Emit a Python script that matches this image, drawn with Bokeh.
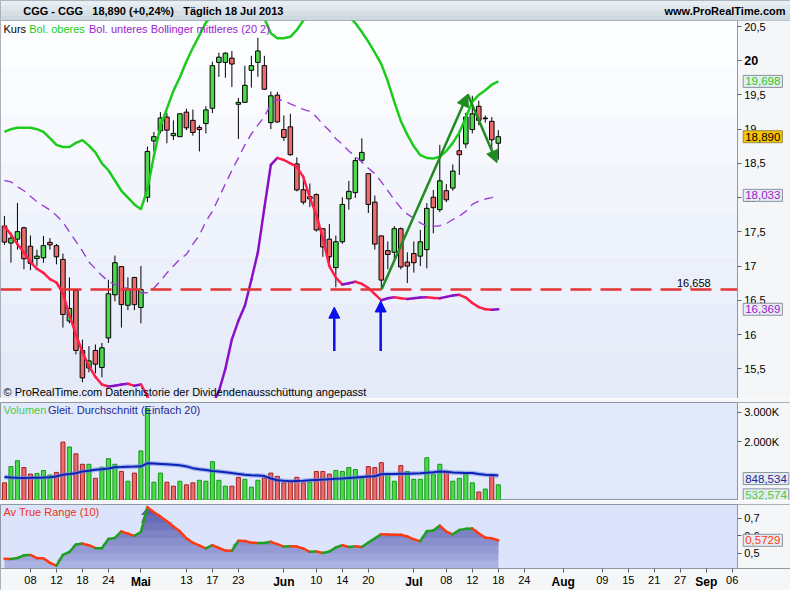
import numpy as np
from bokeh.plotting import figure
from bokeh.layouts import column
from bokeh.models import (Range1d, FixedTicker, Label, Arrow, NormalHead,
                          BoxAnnotation, ColumnDataSource, LinearAxis)
from bokeh.embed import file_html
from bokeh.resources import INLINE

# ------------------------------------------------------------------ data
ticker_name = "CGG - CGG"
period_text = "Täglich  18 Jul 2013"
site_text = "www.ProRealTime.com"

opens = [17.585, 17.336, 17.393, 17.56, 17.29, 17.11, 17.121, 17.346, 17.298, 17.097,
         16.198, 16.643, 15.767, 15.51, 15.767, 15.518, 15.949, 16.58, 16.992, 16.427,
         16.834, 16.394, 18.005, 18.828, 18.976, 19.177, 18.905, 18.89, 19.249, 19.129,
         19.024, 19.082, 19.306, 19.976, 19.976, 20.038, 19.364, 19.392, 19.861, 19.976,
         19.928, 19.096, 19.498, 18.995, 19.034, 18.493, 18.115, 17.981, 18.044, 17.546,
         17.393, 16.977, 17.355, 17.982, 18.073, 18.546, 18.35, 17.934, 17.441, 17.226,
         17.202, 17.546, 17.058, 17.183, 17.145, 17.24, 18.006, 17.824, 18.101, 18.139,
         18.685, 18.785, 18.995, 19.335, 19.163, 19.115, 18.795]
highs = [17.73, 17.489, 17.92, 17.575, 17.446, 17.24, 17.441, 17.408, 17.322, 17.183,
         16.834, 16.657, 15.925, 15.83, 15.854, 15.877, 16.8, 17.154, 17.0, 16.834,
         16.834, 17.001, 18.747, 18.96, 19.249, 19.24, 19.129, 19.225, 19.297, 19.287,
         19.058, 19.335, 19.985, 20.119, 20.124, 20.143, 19.455, 19.928, 20.072, 20.335,
         20.072, 19.55, 19.545, 19.2, 19.225, 18.589, 18.331, 18.206, 18.063, 17.546,
         17.613, 17.446, 18.006, 18.245, 18.589, 18.866, 18.35, 18.03, 17.441, 17.36,
         17.585, 17.565, 17.202, 17.36, 17.527, 17.92, 18.111, 18.77, 18.197, 18.484,
         18.986, 19.24, 19.488, 19.416, 19.2, 19.177, 18.986]
lows = [17.31, 17.049, 17.24, 16.953, 16.94, 17.0, 17.049, 17.24, 17.025, 16.102,
        16.164, 15.71, 15.303, 15.447, 15.433, 15.375, 15.877, 16.485, 16.102, 16.356,
        16.356, 16.164, 17.934, 18.675, 18.938, 18.795, 18.842, 18.89, 18.986, 18.905,
        18.675, 18.938, 19.235, 19.765, 19.751, 19.617, 18.857, 19.392, 19.608, 19.765,
        19.574, 19.0, 19.096, 18.828, 18.613, 18.092, 17.9, 17.862, 17.503, 17.135,
        17.039, 16.69, 17.326, 17.824, 17.996, 18.508, 17.776, 17.24, 16.657, 16.953,
        17.073, 16.953, 16.752, 16.905, 17.001, 16.968, 17.479, 17.79, 17.934, 18.101,
        18.331, 18.723, 18.938, 19.058, 19.096, 18.675, 18.555]
closes = [17.35, 17.408, 17.503, 17.107, 17.04, 17.145, 17.298, 17.31, 17.135, 16.293,
          16.38, 15.767, 15.366, 15.614, 15.566, 15.806, 16.595, 17.049, 16.437, 16.657,
          16.437, 16.657, 18.675, 18.89, 19.163, 18.986, 18.938, 19.225, 19.02, 18.952,
          18.995, 19.282, 19.928, 20.052, 20.11, 19.952, 19.392, 19.641, 19.928, 20.143,
          19.584, 19.488, 19.106, 18.88, 18.627, 18.111, 17.934, 18.015, 17.527, 17.279,
          17.135, 17.355, 17.9, 18.092, 18.541, 18.661, 17.9, 17.321, 16.795, 17.169,
          17.546, 16.987, 17.0, 17.049, 17.355, 17.843, 17.853, 18.245, 17.968, 18.388,
          18.627, 19.177, 19.225, 19.129, 19.153, 18.845, 18.89]
volumes = [600, 1154, 1354, 1121, 899, 921, 1021, 866, 955, 1987,
           1820, 1587, 1232, 1232, 755, 1132, 1421, 1232, 988, 655,
           932, 1687, 3130, 622, 932, 622, 488, 655, 533, 600,
           688, 655, 1321, 688, 488, 488, 788, 722, 455, 688,
           766, 932, 821, 600, 655, 788, 600, 622, 988, 988,
           899, 1021, 988, 1121, 1054, 766, 1154, 1121, 1288, 910,
           655, 1188, 988, 722, 722, 1454, 899, 1232, 966, 655,
           755, 899, 600, 289, 389, 844, 532.574]
vol_ma20 = [800, 780, 770, 766, 770, 775, 780, 788, 820, 877,
            900, 930, 988, 1010, 1043, 1060, 1090, 1132, 1140, 1150,
            1154, 1160, 1265, 1255, 1243, 1230, 1215, 1200, 1160, 1100,
            1066, 1040, 1000, 988, 960, 932, 905, 877, 860, 850,
            830, 750, 688, 670, 655, 665, 675, 688, 700, 710,
            725, 740, 750, 765, 780, 800, 815, 825, 890, 905,
            905, 910, 910, 920, 930, 945, 960, 985, 975, 955,
            945, 932, 932, 900, 877, 866, 848.534]
boll_upper = [18.96, 19.0, 19.02, 19.02, 19.02, 19.0, 18.96, 18.87, 18.77, 18.74,
              18.74, 18.80, 18.84, 18.76, 18.66, 18.5, 18.4, 18.25, 18.1, 18.0,
              17.9, 17.83, 18.12, 18.61, 19.04, 19.30, 19.56, 19.76, 19.99, 20.19,
              20.37, 20.56, 20.65, 20.75, 20.85, 20.95, 21.05, 21.05, 21.0, 20.85,
              20.62, 20.40, 20.33, 20.33, 20.35, 20.45, 20.59, 20.7, 20.78, 20.85,
              20.88, 20.85, 20.78, 20.65, 20.55, 20.42, 20.28, 20.12, 19.95, 19.7,
              19.4, 19.12, 18.92, 18.75, 18.62, 18.58, 18.57, 18.6, 18.68, 18.8,
              18.95, 19.17, 19.4, 19.5, 19.57, 19.65, 19.698]
boll_mid = [18.25, 18.23, 18.16, 18.1, 18.02, 17.94, 17.88, 17.82, 17.74, 17.64,
            17.5, 17.36, 17.22, 17.06, 16.96, 16.86, 16.78, 16.73, 16.70, 16.67,
            16.64, 16.61, 16.61, 16.68, 16.78, 16.9, 17.0, 17.1, 17.17, 17.32,
            17.45, 17.65, 17.8, 18.0, 18.2, 18.4, 18.58, 18.77, 18.93, 19.06,
            19.18, 19.37, 19.43, 19.42, 19.37, 19.33, 19.29, 19.26, 19.18, 19.07,
            18.98, 18.86, 18.78, 18.68, 18.6, 18.52, 18.43, 18.35, 18.23, 18.1,
            17.97, 17.85, 17.76, 17.7, 17.63, 17.58, 17.58, 17.59, 17.62, 17.68,
            17.73, 17.8, 17.9, 17.95, 17.98, 18.0, 18.033]
boll_lower = [17.58, 17.46, 17.32, 17.2, 17.06, 16.96, 16.90, 16.81, 16.76, 16.60,
              16.28, 16.0, 15.74, 15.54, 15.38, 15.27, 15.24, 15.25, 15.27, 15.28,
              15.25, 15.27, 15.10, 14.75, 14.52, 14.50, 14.44, 14.44, 14.35, 14.45,
              14.53, 14.74, 14.98, 15.17, 15.5, 15.93, 16.2, 16.42, 16.8, 17.2,
              17.85, 18.48, 18.58, 18.55, 18.5, 18.45, 18.3, 18.0, 17.75, 17.4,
              17.0, 16.83, 16.73, 16.75, 16.77, 16.74, 16.68, 16.59, 16.50, 16.53,
              16.545, 16.53, 16.52, 16.53, 16.54, 16.545, 16.535, 16.53, 16.55, 16.57,
              16.58, 16.54, 16.46, 16.40, 16.37, 16.362, 16.369]
atr10 = [0.468, 0.466, 0.472, 0.487, 0.489, 0.471, 0.470, 0.444, 0.428, 0.49,
         0.506, 0.549, 0.554, 0.545, 0.528, 0.528, 0.581, 0.586, 0.624, 0.611,
         0.598, 0.620, 0.762, 0.733, 0.708, 0.682, 0.652, 0.624, 0.584, 0.559,
         0.542, 0.527, 0.545, 0.529, 0.514, 0.513, 0.570, 0.569, 0.559, 0.558,
         0.558, 0.564, 0.551, 0.537, 0.539, 0.537, 0.526, 0.507, 0.509, 0.500,
         0.509, 0.532, 0.545, 0.535, 0.539, 0.535, 0.560, 0.584, 0.608, 0.606,
         0.605, 0.604, 0.595, 0.578, 0.568, 0.625, 0.629, 0.657, 0.622, 0.607,
         0.632, 0.638, 0.640, 0.612, 0.588, 0.584, 0.5729]

tick_idx = [4, 8, 12, 16, 21, 28, 32, 36, 43, 48, 52, 56, 63, 68, 72, 76,
            80, 86, 92, 96, 100, 104, 108, 112]
tick_labels = ["08", "12", "18", "24", "Mai", "13", "17", "23", "Jun", "10", "14", "20",
               "Jul", "08", "12", "18", "24", "Aug", "09", "15", "21", "27", "Sep", "06"]
month_names = ["Mai", "Jun", "Jul", "Aug", "Sep"]
price_ticks = [15.5, 16.0, 16.5, 17.0, 17.5, 18.0, 18.5, 19.0, 19.5, 20.0, 20.5]
price_bold_ticks = [20.0]
volume_ticks = [2000, 3000]
atr_ticks = [0.5, 0.6, 0.7]

support_level = 16.658
trend_x = [58.05, 71.3, 75.8]
trend_y = [16.66, 19.51, 18.51]
marker_x = [50.76, 57.9]
marker_tail = [15.76, 15.76]
marker_head = [16.40, 16.49]

# ------------------------------------------------------------------ styling
FONT = "Liberation Sans"
W = 790
X0, X1 = -0.608, 120.97      # full frame width
X_AX = 112.77                # where the price scale sits
P_RANGE = (15.065, 20.588)
V_RANGE = (0, 3333)
A_RANGE = (0.412, 0.777)     # visible ATR panel
A_FRAME_PX, A_STRIP_PX = 64, 22
A_VIEW = (A_RANGE[0] - A_STRIP_PX * (A_RANGE[1] - A_RANGE[0]) / A_FRAME_PX, A_RANGE[1])
GREEN_C, RED_C = "#4cd94c", "#ec6b6b"
AXIS_BG = "#f5f6f8"

idx = np.arange(len(closes))
o, h, l, c = (np.array(a, dtype=float) for a in (opens, highs, lows, closes))
xr = Range1d(X0, X1)


def de(v, nd):
    return f"{v:.{nd}f}".replace(".", ",")


def tick_text(t):
    return f"{t:g}".replace(".", ",")


def mix(c1, c2, t):
    a = [int(c1[i:i + 2], 16) for i in (1, 3, 5)]
    b = [int(c2[i:i + 2], 16) for i in (1, 3, 5)]
    return "#" + "".join(f"{int(round(a[k] + (b[k] - a[k]) * t)):02x}" for k in range(3))


def style_axis(ax):
    ax.axis_line_color = "#8f99a3"
    ax.major_tick_line_color = "#5a646e"
    ax.major_tick_out = 4
    ax.major_tick_in = 0
    ax.minor_tick_line_color = None
    ax.major_label_text_font = FONT
    ax.major_label_text_font_size = "11px"
    ax.major_label_text_color = "#000000"
    ax.major_label_standoff = 3


def make_fig(height, yr, top=0, bg="#e2e9fb"):
    p = figure(width=W, height=height, x_range=xr, y_range=Range1d(*yr),
               output_backend="svg", toolbar_location=None,
               x_axis_location=None, y_axis_location="right",
               min_border_left=0, min_border_right=0, min_border_top=top,
               min_border_bottom=0, background_fill_color=bg,
               border_fill_color=AXIS_BG, outline_line_color="#8f99a3")
    p.grid.visible = False
    ax = p.yaxis[0]
    ax.fixed_location = X_AX
    style_axis(ax)
    return p


def axis_area(p):
    p.add_layout(BoxAnnotation(left=X_AX, fill_color=AXIS_BG, fill_alpha=1,
                               line_color=None, level="underlay"))


def lab(p, x, y, text, color="#000000", size="11px", bold=False, align="left", **kw):
    p.add_layout(Label(x=x, y=y, text=text, text_color=color, text_font=FONT,
                       text_font_size=size, text_font_style="bold" if bold else "normal",
                       text_align=align, text_baseline="middle", **kw))


def vbox(p, y, text, color, bg="#e6ecf2", border="#8a949e", yoff=0):
    p.add_layout(Label(x=X_AX, y=y, x_offset=6, y_offset=yoff, text=text, text_color=color,
                       text_font=FONT, text_font_size="11.5px", text_baseline="middle",
                       text_align="left", background_fill_color=bg, background_fill_alpha=1,
                       border_line_color=border, padding=2))


def slope_segments(p, vals, up_col, dn_col, width=2.5):
    v = np.asarray(vals, dtype=float)
    cols = [up_col if b >= a else dn_col for a, b in zip(v[:-1], v[1:])]
    p.segment(x0=idx[:-1], y0=v[:-1], x1=idx[1:], y1=v[1:], line_color=cols,
              line_width=width, line_cap="round")


# ------------------------------------------------------------------ header
hp = figure(width=W, height=20, x_range=Range1d(0, W), y_range=Range1d(0, 20),
            x_axis_location=None, y_axis_location=None, toolbar_location=None,
            output_backend="svg", min_border=0, background_fill_color="#dbe3ea",
            outline_line_color="#9aa4ae")
hp.grid.visible = False
hlev = np.linspace(0, 20, 5)
for k in range(4):
    hp.add_layout(BoxAnnotation(bottom=hlev[k], top=hlev[k + 1], fill_alpha=1,
                                fill_color=mix("#c9d4dd", "#eef2f6", (k + 0.5) / 4),
                                line_color=None, level="underlay"))
pct = (closes[-1] / closes[-2] - 1) * 100
lab(hp, 22.7, 10, ticker_name, bold=True)
lab(hp, 91.8, 10, f"{de(closes[-1], 3)} ({'+' if pct >= 0 else ''}{de(pct, 2)}%)", bold=True)
lab(hp, 182.7, 10, period_text, bold=True)
lab(hp, 785, 10, site_text, bold=True, align="right")

# ------------------------------------------------------------------ price panel
pp = make_fig(378, P_RANGE, bg="#ffffff")
plev = np.linspace(P_RANGE[0], P_RANGE[1], 9)
for k in range(8):
    pp.add_layout(BoxAnnotation(bottom=plev[k], top=plev[k + 1], fill_alpha=1,
                                fill_color=mix("#e3e9f8", "#ffffff", (k + 0.5) / 8),
                                line_color=None, level="underlay"))
axis_area(pp)
pp.yaxis[0].ticker = FixedTicker(ticks=price_ticks)
pp.yaxis[0].major_label_overrides = {t: ("" if t in price_bold_ticks else tick_text(t))
                                     for t in price_ticks}
bold_axis = LinearAxis(fixed_location=X_AX, ticker=FixedTicker(ticks=price_bold_ticks),
                       major_label_overrides={t: tick_text(t) for t in price_bold_ticks})
style_axis(bold_axis)
bold_axis.axis_line_color = None
bold_axis.major_label_text_font_style = "bold"
bold_axis.major_label_text_font_size = "12.5px"
pp.add_layout(bold_axis, "right")

up = c >= o
pp.segment(x0=idx, y0=l, x1=idx, y1=h, line_color="black", line_width=1)
pp.vbar(x=idx, top=np.maximum(o, c), bottom=np.minimum(o, c), width=0.7,
        fill_color=[GREEN_C if u else RED_C for u in up], line_color="black", line_width=1)

pp.line(idx, boll_mid, line_color="#9a3fd6", line_width=1.4, line_dash="9 6")
pp.line(idx, boll_upper, line_color="#1ccc1c", line_width=2.5)
slope_segments(pp, boll_lower, "#8a10c8", "#ff1f4b")

pp.segment(x0=[X0], y0=[support_level], x1=[X_AX], y1=[support_level],
           line_color="#e33535", line_width=2.5, line_dash="21 9")
lab(pp, 103.5, support_level + 0.1, de(support_level, 3))

tsrc = ColumnDataSource(dict(x0=trend_x[:-1], y0=trend_y[:-1], x1=trend_x[1:], y1=trend_y[1:]))
pp.add_layout(Arrow(source=tsrc, x_start="x0", y_start="y0", x_end="x1", y_end="y1",
                    line_color="#1e8c1e", line_width=2.5,
                    end=NormalHead(size=12, fill_color="#1e8c1e", line_color="#1e8c1e")))
msrc = ColumnDataSource(dict(x=marker_x, y0=marker_tail, y1=marker_head))
pp.add_layout(Arrow(source=msrc, x_start="x", y_start="y0", x_end="x", y_end="y1",
                    line_color="#0a10f0", line_width=2.5,
                    end=NormalHead(size=11, fill_color="#0a10f0", line_color="#0a10f0")))

lab(pp, -0.15, 20.46, "Kurs")
lab(pp, 3.8, 20.46, "Bol. oberes", color="#22cc22")
lab(pp, 13.0, 20.46, "Bol. unteres Bollinger mittleres (20 2)", color="#9922cc")
lab(pp, -0.15, 15.165, "© ProRealTime.com  Datenhistorie der Dividendenausschüttung angepasst")

vbox(pp, boll_upper[-1], de(boll_upper[-1], 3), "#22cc22")
vbox(pp, closes[-1], de(closes[-1], 3), "#000000", bg="#f6c400", border="#9c8a50")
vbox(pp, boll_mid[-1], de(boll_mid[-1], 3), "#9922cc")
vbox(pp, boll_lower[-1], de(boll_lower[-1], 3), "#9922cc")

# ------------------------------------------------------------------ volume panel
vp = make_fig(102, V_RANGE, top=4, bg="#e2e9fb")
axis_area(vp)
vp.yaxis[0].ticker = FixedTicker(ticks=volume_ticks)
vp.yaxis[0].major_label_overrides = {t: f"{t:,}".replace(",", ".") + "K" for t in volume_ticks}
vup = [(closes[i] > closes[i - 1]) if i > 0 else (closes[0] >= opens[0]) for i in range(len(closes))]
vp.vbar(x=idx, top=volumes, bottom=0, width=0.62,
        fill_color=[GREEN_C if u else RED_C for u in vup],
        line_color=["#129a12" if u else "#a52020" for u in vup], line_width=1)
vp.line(idx, vol_ma20, line_color="#6f86dd", line_width=4.5, line_alpha=0.55)
vp.line(idx, vol_ma20, line_color="#0b22b8", line_width=2)
lab(vp, -0.15, 3067, "Volumen", color="#44cc44")
lab(vp, 6.7, 3067, "Gleit. Durchschnitt (Einfach 20)", color="#1a2a99")
vbox(vp, vol_ma20[-1], de(vol_ma20[-1], 3), "#1a2a99", yoff=-3)
vbox(vp, volumes[-1], de(volumes[-1], 3), "#44cc44", yoff=-10)

# ------------------------------------------------------------------ ATR panel (+ date strip)
ap = make_fig(90, A_VIEW, top=4, bg="#dbe4fb")
ap.add_layout(BoxAnnotation(top=A_RANGE[0], fill_color=AXIS_BG, fill_alpha=1,
                            line_color=None, level="underlay"))
axis_area(ap)
ap.yaxis[0].ticker = FixedTicker(ticks=atr_ticks)
ap.yaxis[0].bounds = A_RANGE
ap.yaxis[0].major_label_overrides = {t: tick_text(t) for t in atr_ticks}
atr = np.array(atr10)
alev = np.linspace(A_RANGE[0], 0.76, 9)
for k in range(8):
    ap.varea(x=idx, y1=alev[k], y2=np.maximum(atr, alev[k]),
             fill_color=mix("#aab2e3", "#5c60ae", k / 7))
slope_segments(ap, atr10, "#1f9e1f", "#ff3a10")
lab(ap, -0.15, 0.732, "Av True Range (10)", color="#ee3311")
vbox(ap, atr10[-1], de(atr10[-1], 4), "#ff3a10")

day_axis = LinearAxis(fixed_location=A_RANGE[0], ticker=FixedTicker(ticks=tick_idx),
                      major_label_overrides={t: ("" if s in month_names else s)
                                             for t, s in zip(tick_idx, tick_labels)})
style_axis(day_axis)
ap.add_layout(day_axis, "below")

month_ticks = [t for t, s in zip(tick_idx, tick_labels) if s in month_names]
month_axis = LinearAxis(fixed_location=A_RANGE[0], ticker=FixedTicker(ticks=month_ticks),
                        major_label_overrides={t: s for t, s in zip(tick_idx, tick_labels)
                                               if s in month_names})
style_axis(month_axis)
month_axis.axis_line_color = None
month_axis.major_label_text_font_style = "bold"
month_axis.major_label_text_font_size = "12px"
month_axis.major_label_standoff = 2
ap.add_layout(month_axis, "below")

layout = column(hp, pp, vp, ap, spacing=0)
open("out.html", "w").write(file_html(layout, INLINE))
